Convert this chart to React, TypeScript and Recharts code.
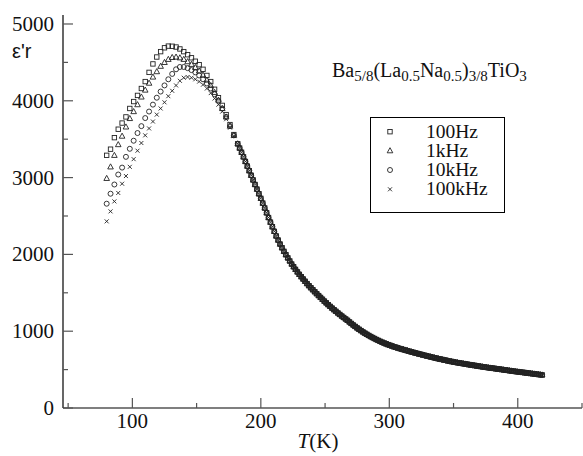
import React from 'react';
import { ScatterChart, Scatter, XAxis, YAxis } from 'recharts';

// temperatures (K) where the four curves still differ
const risingTemps = [80, 83, 86, 89, 92, 95, 98, 101, 104, 107, 110, 113, 116, 119, 122, 125, 128, 131, 134, 137, 140, 143, 146, 149, 152, 155, 158, 161, 164, 167, 170, 173, 176, 179];

const eps100Hz = [3290, 3370, 3520, 3630, 3710, 3790, 3900, 3990, 4070, 4160, 4250, 4370, 4480, 4570, 4640, 4690, 4712, 4710, 4700, 4675, 4640, 4600, 4560, 4515, 4470, 4410, 4330, 4250, 4150, 4040, 3940, 3820, 3690, 3560];
const eps1kHz = [2990, 3140, 3290, 3430, 3540, 3660, 3770, 3860, 3950, 4050, 4140, 4230, 4310, 4380, 4450, 4500, 4540, 4565, 4570, 4560, 4540, 4510, 4475, 4435, 4390, 4335, 4270, 4200, 4110, 4010, 3900, 3790, 3670, 3550];
const eps10kHz = [2660, 2790, 2910, 3040, 3130, 3270, 3375, 3480, 3580, 3670, 3775, 3860, 3950, 4040, 4120, 4200, 4280, 4350, 4410, 4440, 4440, 4425, 4400, 4370, 4330, 4280, 4225, 4160, 4085, 4000, 3900, 3790, 3670, 3550];
const eps100kHz = [2430, 2560, 2690, 2800, 2920, 3020, 3140, 3240, 3350, 3450, 3550, 3640, 3730, 3820, 3900, 3980, 4060, 4130, 4200, 4260, 4300, 4310, 4300, 4280, 4250, 4210, 4160, 4100, 4030, 3950, 3860, 3760, 3650, 3540];

// above ~180 K all frequencies lie on one curve (dense sampling)
const tailTemps = [
  182, 183.5, 185, 186.5, 188, 189.5, 191, 192.5, 194, 195.5, 197, 198.5, 200, 201.5, 203, 204.5, 206, 207.5, 209, 210.5,
  212, 213.5, 215, 216.5, 218, 219.5, 221, 222.5, 224, 225.5, 227, 228.5, 230, 231.5, 233, 234.5, 236, 237.5, 239, 240.5,
  242, 243.5, 245, 246.5, 248, 249.5, 251, 252.5, 254, 255.5, 257, 258.5, 260, 261.5, 263, 264.5, 266, 267.5, 269, 270.5,
  272, 273.5, 275, 276.5, 278, 279.5, 281, 282.5, 284, 285.5, 287, 288.5, 290, 291.5, 293, 294.5, 296, 297.5, 299, 300.5,
  302, 303.5, 305, 306.5, 308, 309.5, 311, 312.5, 314, 315.5, 317, 318.5, 320, 321.5, 323, 324.5, 326, 327.5, 329, 330.5,
  332, 333.5, 335, 336.5, 338, 339.5, 341, 342.5, 344, 345.5, 347, 348.5, 350, 351.5, 353, 354.5, 356, 357.5, 359, 360.5,
  362, 363.5, 365, 366.5, 368, 369.5, 371, 372.5, 374, 375.5, 377, 378.5, 380, 381.5, 383, 384.5, 386, 387.5, 389, 390.5,
  392, 393.5, 395, 396.5, 398, 399.5, 401, 402.5, 404, 405.5, 407, 408.5, 410, 411.5, 413, 414.5, 416, 417.5, 419,
];
const epsTail = [
  3440, 3385, 3330, 3270, 3210, 3150, 3090, 3030, 2970, 2910, 2850, 2790, 2730, 2668, 2605, 2542, 2480, 2420, 2360, 2300,
  2240, 2187, 2135, 2087, 2040, 1997, 1955, 1915, 1875, 1840, 1805, 1772, 1740, 1710, 1680, 1650, 1620, 1593, 1566, 1540,
  1514, 1489, 1464, 1440, 1416, 1392, 1369, 1346, 1323, 1301, 1280, 1259, 1238, 1218, 1198, 1179, 1160, 1142, 1121, 1101,
  1081, 1062, 1043, 1025, 1008, 991, 975, 960, 945, 931, 918, 905, 892, 880, 868, 857, 846, 836, 826, 817,
  808, 799, 791, 783, 775, 768, 761, 754, 747, 739, 732, 725, 718, 711, 705, 698, 692, 685, 679, 673,
  667, 661, 655, 649, 643, 637, 632, 626, 621, 615, 610, 605, 600, 595, 591, 586, 582, 578, 574, 569,
  565, 561, 557, 553, 549, 545, 541, 537, 533, 529, 526, 522, 519, 515, 512, 508, 505, 501, 498, 494,
  490, 487, 483, 479, 476, 473, 470, 466, 463, 460, 457, 453, 450, 447, 444, 440, 437, 434, 431,
];

const xTicks = [50, 100, 150, 200, 250, 300, 350, 400, 450];
const yTicks = [0, 500, 1000, 1500, 2000, 2500, 3000, 3500, 4000, 4500, 5000];
const seriesNames = ['100Hz', '1kHz', '10kHz', '100kHz'];

const build = (vals: number[]) =>
  risingTemps.map((t, i) => ({ t, v: vals[i] })).concat(tailTemps.map((t, i) => ({ t, v: epsTail[i] })));

const INK = '#222';
const SERIF = 'Liberation Serif';
const X_DOMAIN: [number, number] = [46, 450];
const Y_DOMAIN: [number, number] = [0, 5117];

const Square = ({ cx, cy }: any) => <rect x={cx - 2.2} y={cy - 2.2} width={4.4} height={4.4} fill="none" stroke={INK} strokeWidth={0.9} />;
const Triangle = ({ cx, cy }: any) => (
  <polygon points={`${cx},${cy - 3} ${cx - 2.8},${cy + 2.1} ${cx + 2.8},${cy + 2.1}`} fill="none" stroke={INK} strokeWidth={0.9} />
);
const Ring = ({ cx, cy }: any) => <circle cx={cx} cy={cy} r={2.5} fill="none" stroke={INK} strokeWidth={0.9} />;
const Cross = ({ cx, cy }: any) => (
  <path d={`M${cx - 2},${cy - 2}L${cx + 2},${cy + 2}M${cx - 2},${cy + 2}L${cx + 2},${cy - 2}`} stroke={INK} strokeWidth={0.9} />
);
const markers = [Square, Triangle, Ring, Cross];

// inward ticks drawn as paths; labels only on the major ones
const renderXTick = (props: any) => {
  const { x, y, payload } = props;
  const major = payload.value % 100 === 0;
  return (
    <g key={`xt-${payload.value}`}>
      <path d={`M${x},${y}V${y - (major ? 10 : 5)}`} stroke="#555" strokeWidth={1.2} fill="none" />
      {major && (
        <text x={x} y={y + 20} textAnchor="middle" fontFamily={SERIF} fontSize={21} fill="#111">
          {payload.value}
        </text>
      )}
    </g>
  );
};

const renderYTick = (props: any) => {
  const { x, y, payload } = props;
  const major = payload.value % 1000 === 0;
  return (
    <g key={`yt-${payload.value}`}>
      <path d={`M${x},${y}H${x + (major ? 10 : 5)}`} stroke="#555" strokeWidth={1.2} fill="none" />
      {major && (
        <text x={x - 9} y={y + 7} textAnchor="end" fontFamily={SERIF} fontSize={21} fill="#111">
          {payload.value}
        </text>
      )}
    </g>
  );
};

export default function App() {
  const data = [build(eps100Hz), build(eps1kHz), build(eps10kHz), build(eps100kHz)];
  const rows = [131.7, 150.7, 170, 189.3];
  return (
    <div style={{ position: 'absolute', left: 0, top: 0, width: 583, height: 456, background: '#fff' }}>
      <ScatterChart width={583} height={456} margin={{ top: 15, right: 1, bottom: 0, left: 0 }}>
        <XAxis
          type="number"
          dataKey="t"
          domain={X_DOMAIN}
          ticks={xTicks}
          interval={0}
          allowDataOverflow
          height={48}
          tickSize={0}
          tickMargin={0}
          tickLine={false}
          tick={renderXTick}
          axisLine={{ stroke: '#000', strokeWidth: 1.2 }}
        />
        <YAxis
          type="number"
          dataKey="v"
          domain={Y_DOMAIN}
          ticks={yTicks}
          interval={0}
          allowDataOverflow
          width={63}
          tickSize={0}
          tickMargin={0}
          tickLine={false}
          tick={renderYTick}
          axisLine={{ stroke: '#000', strokeWidth: 1.2 }}
        />
        {/* top and right frame lines */}
        <XAxis xAxisId="top" orientation="top" type="number" domain={X_DOMAIN} allowDataOverflow height={0} tick={false} tickLine={false} axisLine={{ stroke: '#000', strokeWidth: 1 }} />
        <YAxis yAxisId="right" orientation="right" type="number" domain={Y_DOMAIN} allowDataOverflow width={0} tick={false} tickLine={false} axisLine={{ stroke: '#000', strokeWidth: 1 }} />
        {data.map((d, i) => {
          const M = markers[i];
          return (
            <Scatter
              key={seriesNames[i]}
              name={seriesNames[i]}
              data={d}
              isAnimationActive={false}
              shape={(p: any) => <M cx={p.cx} cy={p.cy} />}
            />
          );
        })}
      </ScatterChart>
      <svg width={583} height={456} style={{ position: 'absolute', left: 0, top: 0, pointerEvents: 'none' }}>
        <text x={12} y={58} fontFamily="Liberation Sans" fontSize={20} fill="#111">
          ε'r
        </text>
        <text x={332} y={77} fontFamily={SERIF} fontSize={20} fill="#111">
          Ba
          <tspan fontSize={15} dy={4}>5/8</tspan>
          <tspan dy={-4}>(La</tspan>
          <tspan fontSize={15} dy={4}>0.5</tspan>
          <tspan dy={-4}>Na</tspan>
          <tspan fontSize={15} dy={4}>0.5</tspan>
          <tspan dy={-4}>)</tspan>
          <tspan fontSize={15} dy={4}>3/8</tspan>
          <tspan dy={-4}>TiO</tspan>
          <tspan fontSize={15} dy={4}>3</tspan>
        </text>
        <text x={318} y={448} textAnchor="middle" fontFamily={SERIF} fontSize={21} fill="#111">
          <tspan fontStyle="italic">T</tspan>(K)
        </text>
        <rect x={370.5} y={117.5} width={134} height={95} fill="#fff" stroke="#000" strokeWidth={1} />
        {seriesNames.map((n, i) => {
          const M = markers[i];
          return (
            <g key={n}>
              <M cx={390} cy={rows[i]} />
              <text x={426} y={rows[i] + 6} fontFamily={SERIF} fontSize={19.5} fill="#111">
                {n}
              </text>
            </g>
          );
        })}
      </svg>
    </div>
  );
}
